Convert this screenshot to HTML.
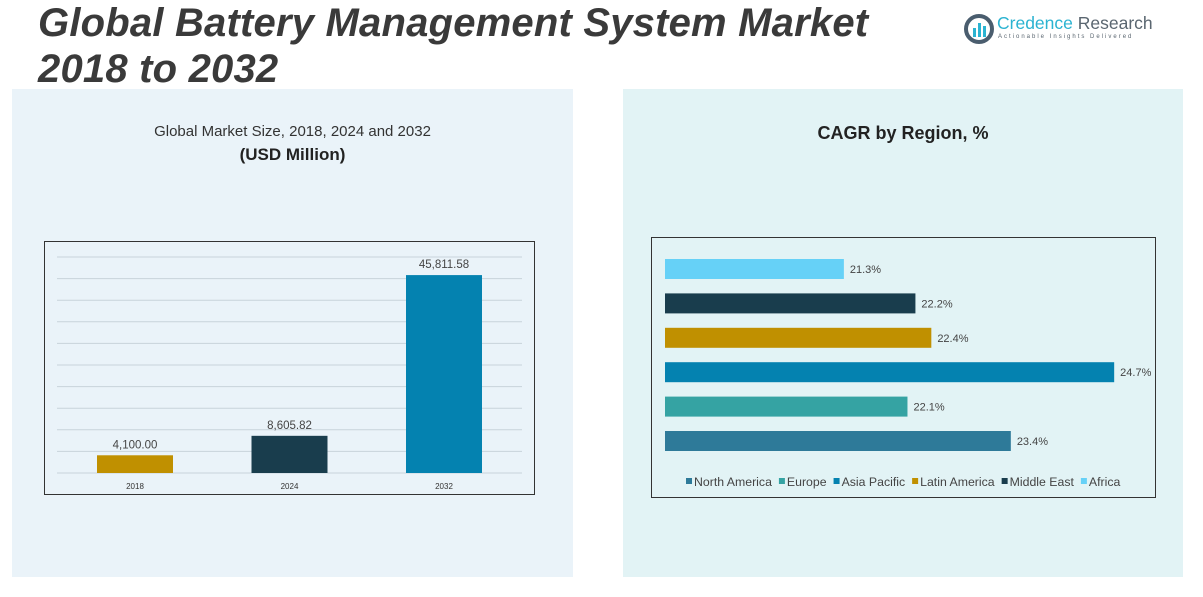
<!DOCTYPE html>
<html><head><meta charset="utf-8">
<style>
body{margin:0;width:1203px;height:597px;background:#fff;position:relative;overflow:hidden;font-family:"Liberation Sans",sans-serif;}
.abs{position:absolute;}
</style></head>
<body>
<div class="abs" style="left:12px;top:89px;width:561px;height:488px;background:#eaf3f9"></div>
<div class="abs" style="left:623px;top:89px;width:560px;height:488px;background:#e2f3f5"></div>
<div class="abs" style="left:38px;top:0px;font-size:40px;font-weight:bold;font-style:italic;color:#3a3a3a;line-height:46px;letter-spacing:0.2px">Global Battery Management System Market<br>2018 to 2032</div>
<div class="abs" style="left:964px;top:12px;width:200px;height:32px">
<svg width="32" height="30" style="position:absolute;left:0;top:2px"><circle cx="15" cy="15" r="13" fill="none" stroke="#4a5d6e" stroke-width="4"/><rect x="9" y="14" width="3" height="9" fill="#2bb3d1"/><rect x="14" y="9" width="3" height="14" fill="#2bb3d1"/><rect x="19" y="12" width="3" height="11" fill="#2bb3d1"/></svg>
<div class="abs" style="left:33px;top:1px;font-size:17.5px;white-space:nowrap"><span style="color:#2bb3d1">Credence</span> <span style="color:#5a6670">Research</span></div>
<div class="abs" style="left:34px;top:22px;font-size:6px;letter-spacing:2px;color:#5a6670;white-space:nowrap">Actionable Insights Delivered</div>
</div>
<div class="abs" style="left:12px;width:561px;top:123px;text-align:center;font-size:15px;color:#333">Global Market Size, 2018, 2024 and 2032</div>
<div class="abs" style="left:12px;width:561px;top:145px;text-align:center;font-size:17px;font-weight:bold;color:#222">(USD Million)</div>
<div class="abs" style="left:623px;width:560px;top:123px;text-align:center;font-size:18px;font-weight:bold;color:#222">CAGR by Region, %</div>

<svg class="abs" style="left:0;top:0" width="1203" height="597" id="charts">
<rect x="44.5" y="241.5" width="490" height="253" fill="none" stroke="#333" stroke-width="1"/>
<rect x="651.5" y="237.5" width="504" height="260" fill="none" stroke="#333" stroke-width="1"/>
<g id="bar-g"></g>
<g id="hbar-g"></g>
</svg>
<script>
const years=["2018","2024","2032"];
const marketValues=[4100.00,8605.82,45811.58];
const marketLabels=["4,100.00","8,605.82","45,811.58"];
const marketColors=["#c09000","#193d4d","#0482b0"];
const regions=["North America","Europe","Asia Pacific","Latin America","Middle East","Africa"];
const cagrValues=[23.4,22.1,24.7,22.4,22.2,21.3];
const cagrLabels=["23.4%","22.1%","24.7%","22.4%","22.2%","21.3%"];
const regionColors=["#2e7a99","#35a3a3","#0482b0","#c09000","#193d4d","#66d1f7"];

const NS="http://www.w3.org/2000/svg";
function mk(t,a,p){const e=document.createElementNS(NS,t);for(const k in a)e.setAttribute(k,a[k]);p.appendChild(e);return e;}
const bg=document.getElementById('bar-g');
const y0=473,y1=257,ymax=50000;
const yS=v=>y0-(v/ymax)*(y0-y1);
for(let i=0;i<=10;i++){const gy=yS(i*5000);const l=mk('line',{x1:57,x2:522,y1:gy,y2:gy,stroke:'#c8d3da','stroke-width':1},bg);

}
const xC=i=>135+i*154.5;
years.forEach((yr,i)=>{
 const r=mk('rect',{x:xC(i)-38,y:yS(marketValues[i]),width:76,height:y0-yS(marketValues[i]),fill:marketColors[i]},bg);
 
 
 const t=mk('text',{x:xC(i),y:yS(marketValues[i])-7,'text-anchor':'middle','font-size':11.5,fill:'#444','font-family':'Liberation Sans'},bg);t.textContent=marketLabels[i];
 
 
 const x=mk('text',{x:xC(i),y:489,'text-anchor':'middle','font-size':8,fill:'#333','font-family':'Liberation Sans'},bg);x.textContent=yr;
 
 
});
const hg=document.getElementById('hbar-g');
const xmin=19.05,xL=665,pxPer=79.5;
const xS=v=>xL+(v-xmin)*pxPer;
const yRow=i=>441-i*34.4;
regions.forEach((rg,i)=>{
 const w=xS(cagrValues[i])-xL;
 const r=mk('rect',{x:xL,y:yRow(i)-10,width:w,height:20,fill:regionColors[i]},hg);
 
 
 const t=mk('text',{x:xL+w+6,y:yRow(i)+4,'font-size':11,fill:'#444','font-family':'Liberation Sans'},hg);t.textContent=cagrLabels[i];
 
 
});
let lx=686;
regions.forEach((rg,i)=>{
 const s=mk('rect',{x:lx,y:478,width:6,height:6,fill:regionColors[i]},hg);
 
 
 const t=mk('text',{x:lx+8,y:486,'font-size':12.3,fill:'#444','font-family':'Liberation Sans'},hg);t.textContent=rg;
 
 
 lx+=8+t.getComputedTextLength()+7;
});
</script>
</body></html>
